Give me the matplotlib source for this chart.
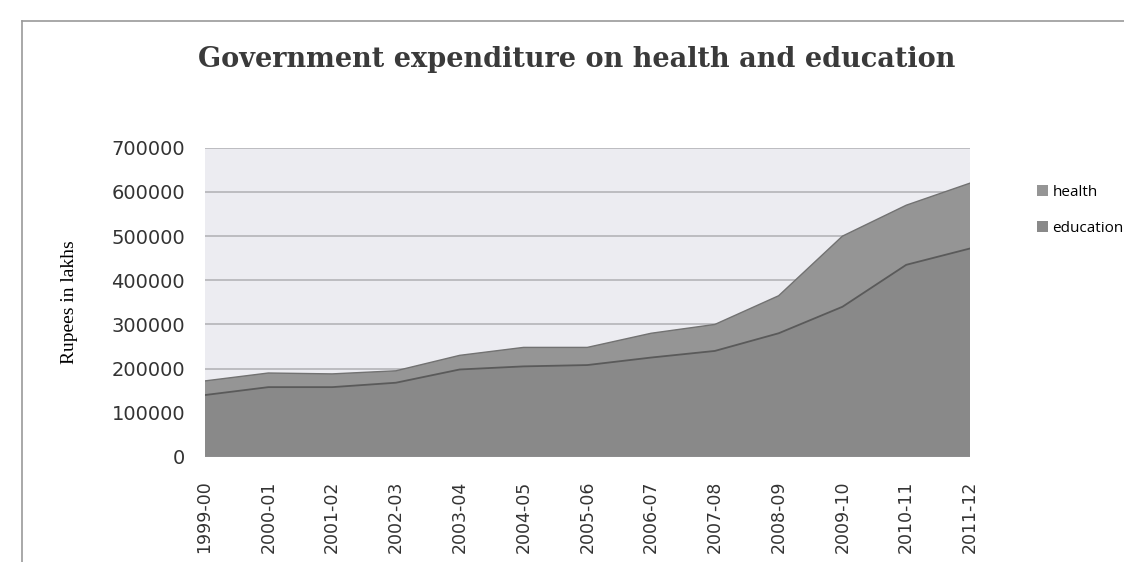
import numpy as np
import matplotlib.pyplot as plt
from matplotlib.lines import Line2D

## values (Rupees in lakhs)
years = ["1999-00", "2000-01", "2001-02", "2002-03", "2003-04", "2004-05", "2005-06",
         "2006-07", "2007-08", "2008-09", "2009-10", "2010-11", "2011-12"]
education = [140000, 158000, 158000, 168000, 198000, 205000, 208000,
             225000, 240000, 280000, 340000, 435000, 472000]
health = [32000, 32000, 30000, 27000, 32000, 43000, 40000,
          55000, 60000, 85000, 160000, 135000, 148000]

fig = plt.figure(figsize=(11.24, 5.62), dpi=100)
ax = fig.add_axes([0.182, 0.187, 0.681, 0.55])

x = np.arange(len(years))
ax.set_facecolor("#ececf1")
ax.stackplot(x, education, health, colors=["#898989", "#959595"],
             labels=["education", "health"], zorder=2)
# dark edges on the layers
ax.plot(x, education, color="#5a5a5a", lw=1.3, zorder=3)
ax.plot(x, np.array(education) + np.array(health), color="#727272", lw=1.0, zorder=3)

ax.set_xlim(0, len(years) - 1)
ax.set_ylim(0, 700000)
ax.set_yticks(np.arange(0, 700001, 100000))
ax.set_yticklabels([str(v) for v in range(0, 700001, 100000)],
                   fontsize=14, color="#333333", family="DejaVu Sans")
ax.yaxis.grid(True, color="#b4b4b8", lw=1.2, zorder=1)
ax.set_axisbelow(True)
ax.set_xticks(x)
ax.set_xticklabels(years, rotation=90, fontsize=12.5, color="#333333", family="DejaVu Sans")
ax.tick_params(length=0)
ax.tick_params(axis="x", pad=17)
ax.tick_params(axis="y", pad=14)
for s in ax.spines.values():
    s.set_visible(False)

ax.set_ylabel("Rupees in lakhs", family="Liberation Serif", fontsize=14, labelpad=24)
fig.text(0.513, 0.895, "Government expenditure on health and education",
         ha="center", va="center", family="DejaVu Serif", fontweight="bold",
         fontsize=19.5, color="#3a3a3a")

# legend, health listed first like the original
h, l = ax.get_legend_handles_labels()
leg = ax.legend(h[::-1], l[::-1], loc="upper left", bbox_to_anchor=(1.07, 0.925),
                frameon=False, handlelength=0.7, handleheight=0.7,
                handletextpad=0.3, labelspacing=1.4, prop={"family": "Open Sans", "size": 11})

# outer chart border (top and left only)
fig.lines.append(Line2D([0.02, 1.0], [0.962, 0.962], transform=fig.transFigure,
                        color="#9a9a9a", lw=1.2))
fig.lines.append(Line2D([0.02, 0.02], [0.962, 0.0], transform=fig.transFigure,
                        color="#9a9a9a", lw=1.2))

fig.savefig("out.png", dpi=100, facecolor="white")
